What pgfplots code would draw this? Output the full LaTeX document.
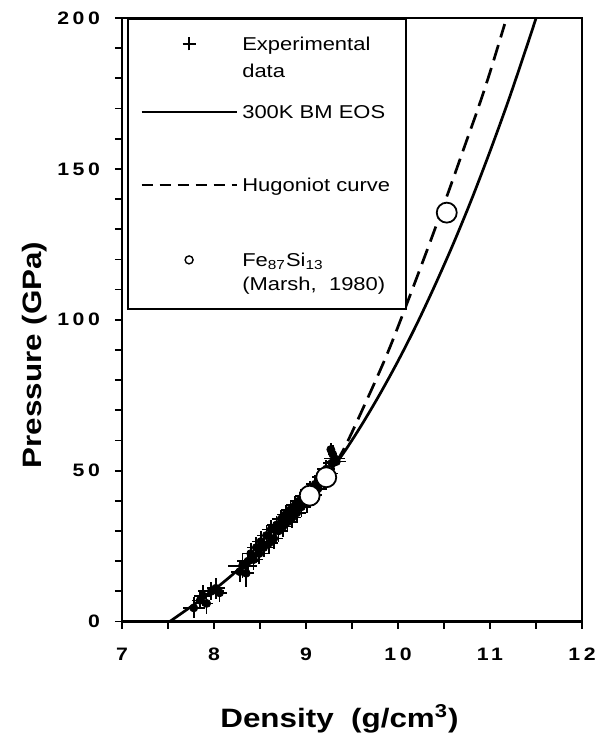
\documentclass[border=0pt]{standalone}
\usepackage{pgfplots}
\pgfplotsset{compat=1.18}
\usepackage{pgfplotstable}
\usepackage{fontspec}
\setmainfont{Liberation Sans}[FakeStretch=1.18]

\pgfplotstableread{
x y ex ey
7.78 4.5 0.12 3.5
7.85 7.0 0.09 3.0
7.88 8.5 0.10 3.5
7.92 6.0 0.07 3.5
7.97 10.0 0.14 3.0
8.02 11.0 0.10 3.5
8.06 9.5 0.08 3.0
8.28 16.5 0.10 3.5
8.31 18.5 0.16 4.0
8.35 16.0 0.08 4.5
8.37 20.0 0.12 3.5
8.40 22.5 0.10 3.5
8.43 20.5 0.10 3.5
8.46 24.5 0.10 3.5
8.49 22.5 0.10 3.5
8.51 26.5 0.10 3.5
8.54 24.5 0.10 3.0
8.57 28.5 0.10 3.5
8.60 26.0 0.10 3.5
8.62 30.5 0.10 3.0
8.65 27.5 0.10 3.5
8.68 32.0 0.10 3.0
8.70 30.0 0.10 3.5
8.73 34.0 0.10 3.0
8.75 31.5 0.10 3.5
8.78 35.5 0.10 3.0
8.80 33.0 0.10 3.5
8.83 37.0 0.10 3.0
8.85 34.5 0.10 3.5
8.88 38.5 0.10 3.0
8.90 36.0 0.10 3.5
8.93 40.0 0.10 3.0
8.95 38.0 0.10 3.5
8.98 41.5 0.10 3.0
9.01 39.5 0.10 3.5
9.04 43.5 0.10 3.0
9.07 42.0 0.10 3.5
9.10 45.5 0.10 3.0
9.13 44.0 0.10 3.5
9.16 48.0 0.10 3.0
9.19 46.5 0.10 3.0
9.22 50.5 0.10 3.0
9.25 49.0 0.10 2.5
9.28 52.5 0.09 2.5
9.31 54.0 0.11 1.5
9.33 53.0 0.10 1.5
9.29 55.5 0.05 3.0
9.27 57.0 0.04 2.0
}\expdata

\pgfplotstableread{
x y
7.52 0
7.8 6.0
8.0 10.5
8.2 15.5
8.4 21.0
8.6 27.0
8.8 33.5
9.0 40.5
9.2 47.5
9.4 55.5
9.6 64.9
9.8 75.2
10.0 86.3
10.2 98.3
10.4 111.3
10.6 125.1
10.8 139.9
11.0 155.8
11.2 172.6
11.4 190.6
11.5 199.9
}\bmeos

\pgfplotstableread{
x y
9.0 40.5
9.2 47.5
9.4 56.5
9.67 74.0
9.88 88.5
10.08 104.0
10.34 125.0
10.55 142.5
10.73 158.0
10.87 170.0
11.0 182.0
11.16 198.0
}\hugo

\pgfplotstableread{
x y
9.04 41.7
9.22 47.8
10.53 135.5
}\marsh

\newcommand{\second}[1]{\makebox[0pt][l]{\raisebox{-13.65pt}[0pt][0pt]{#1}}}

\begin{document}
\begin{tikzpicture}
\begin{axis}[name=ax, scale only axis, width=230pt, height=301.75pt,
  xmin=7, xmax=12, ymin=0, ymax=200,
  xtick={7,8,9,10,11,12}, ytick={0,50,100,150,200},
  minor x tick num=1, minor y tick num=4,
  tick align=outside, tick pos=left,
  major tick length=3.5pt, minor tick length=3.5pt,
  tick style={black, line width=0.9pt},
  axis line style={line width=0.6pt},
  /pgf/number format/assume math mode=true,
  ticklabel style={font=\fontsize{9}{10}\selectfont\bfseries\addfontfeatures{LetterSpace=20}},
  xticklabel style={yshift=-6.4pt},
  yticklabel style={xshift=-4pt},
  xlabel={Density\ \ (g/cm\textsuperscript{3})},
  ylabel={Pressure (GPa)},
  label style={font=\fontsize{13.3}{15}\selectfont\bfseries},
  xlabel style={at={(rel axis cs:0.4728,-0.1764)}, anchor=base},
  ylabel style={at={(rel axis cs:-0.176,0.4416)}, anchor=base},
  legend style={at={(0.0109,1)}, anchor=north west, draw=black, line width=0.9pt, fill=white,
    nodes={inner sep=0pt, text width=75.5pt, align=left, text height=6.7pt, text depth=0pt,
      font=\fontsize{9.3}{13.7}\selectfont},
    cells={anchor=center},
    inner xsep=6.5pt, inner ysep=1pt, column sep=2.5pt, row sep=0pt},
]
\addplot[only marks, mark=none,
  legend image code/.code={\draw[black, line width=0.7pt] (20.5pt,0pt) -- (27pt,0pt) (23.75pt,-3.25pt) -- (23.75pt,3.25pt);},
  error bars/.cd, x dir=both, x explicit, y dir=both, y explicit, error mark=none,
  error bar style={line width=0.85pt, black}]
  table[x=x, y=y, x error=ex, y error=ey] {\expdata};
\addlegendentry[minimum height=23pt]{\second{data}Experimental}

\addplot[black, line width=1.35pt, smooth,
  legend image code/.code={\draw[black, line width=0.7pt] (0pt,0pt) -- (47.5pt,0pt);}]
  table[x=x, y=y] {\bmeos};
\addlegendentry[minimum height=45pt]{300K BM EOS}

\addplot[black, line width=1.35pt, smooth, dash pattern=on 8pt off 4pt,
  legend image code/.code={\draw[black, line width=0.7pt, dash pattern=on 5.5pt off 3.5pt] (0pt,0pt) -- (47.5pt,0pt);}]
  table[x=x, y=y] {\hugo};
\addlegendentry[minimum height=28pt]{Hugoniot curve}

\addplot[only marks, mark=*, mark size=5pt, mark options={fill=white, draw=black, line width=0.9pt},
  legend image code/.code={\draw[black, line width=0.7pt, fill=white] (23.75pt,0pt) circle[radius=2pt];}]
  table[x=x, y=y] {\marsh};
\addlegendentry[minimum height=47pt]{\makebox[0pt][l]{\raisebox{-12.15pt}[0pt][0pt]{(Marsh,\ \ 1980)}}Fe\textsubscript{87}Si\textsubscript{13}}
\end{axis}
\draw[line width=1.35pt, line cap=rect] (ax.north west) -- (ax.south west) -- (ax.south east);
\pgfresetboundingbox
\path ([shift={(-61pt,-59.25pt)}]ax.south west) rectangle ([shift={(9pt,9pt)}]ax.north east);
\end{tikzpicture}
\end{document}
